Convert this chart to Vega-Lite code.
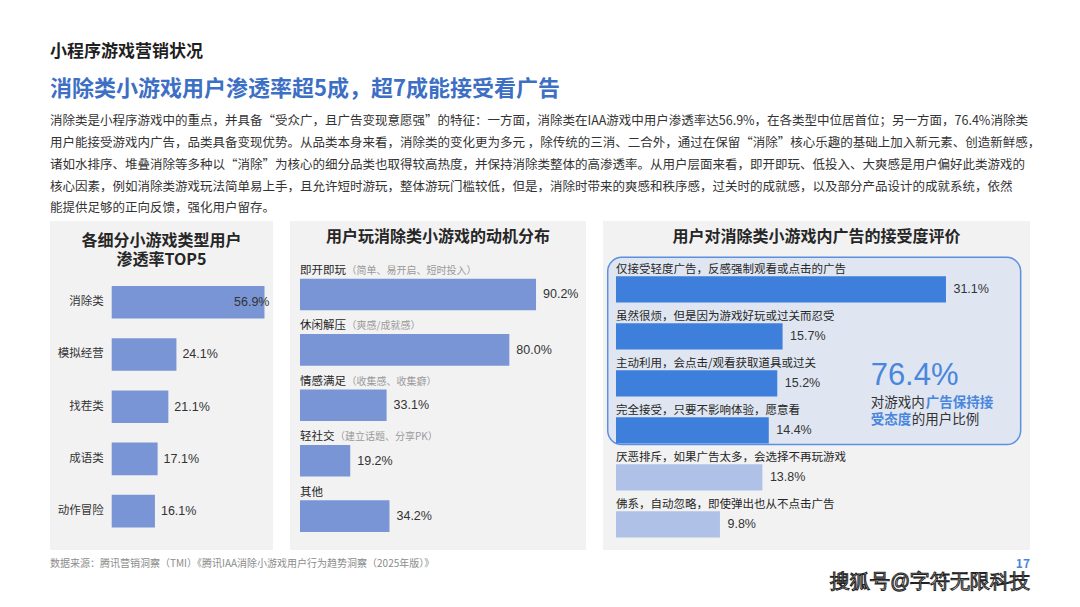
{
  "$schema": "https://vega.github.io/schema/vega-lite/v6.json",
  "background": "white",
  "padding": {"left": 50, "top": 43, "right": 20, "bottom": 0},
  "config": {
    "view": {"stroke": null},
    "font": "Noto Sans CJK SC",
    "style": {"wm": {"stroke": "#222222", "strokeWidth": 1}}
  },
  "title": {
    "text": "小程序游戏营销状况",
    "subtitle": "消除类小游戏用户渗透率超5成，超7成能接受看广告",
    "anchor": "start",
    "font": "Noto Sans CJK SC",
    "fontSize": 17,
    "fontWeight": "bold",
    "color": "#1f1f1f",
    "subtitleFont": "Noto Sans CJK SC",
    "subtitleFontSize": 22,
    "subtitleFontWeight": "bold",
    "subtitleColor": "#3d6fc5",
    "subtitlePadding": 18,
    "offset": 14
  },
  "vconcat": [
    {
      "title": {
        "text": [
          "消除类是小程序游戏中的重点，并具备“受众广，且广告变现意愿强”的特征：一方面，消除类在IAA游戏中用户渗透率达56.9%，在各类型中位居首位；另一方面，76.4%消除类",
          "用户能接受游戏内广告，品类具备变现优势。从品类本身来看，消除类的变化更为多元 ，除传统的三消、二合外，通过在保留“消除”核心乐趣的基础上加入新元素、创造新鲜感，",
          "诸如水排序、堆叠消除等多种以“消除”为核心的细分品类也取得较高热度，并保持消除类整体的高渗透率。从用户层面来看，即开即玩、低投入、大爽感是用户偏好此类游戏的",
          "核心因素，例如消除类游戏玩法简单易上手，且允许短时游玩，整体游玩门槛较低，但是，消除时带来的爽感和秩序感，过关时的成就感，以及部分产品设计的成就系统，依然",
          "能提供足够的正向反馈，强化用户留存。"
        ],
        "anchor": "start",
        "fontSize": 12.5,
        "fontWeight": "normal",
        "color": "#333333",
        "lineHeight": 21.8,
        "offset": 6
      },
      "vconcat": [
        {
          "title": {"text": "搜狐号@字符无限科技", "orient": "bottom", "anchor": "end", "fontSize": 19.5, "fontWeight": "normal", "color": "#ffffff", "style": "wm", "offset": 3},
          "vconcat": [
            {
              "title": {"text": "17", "orient": "bottom", "anchor": "end", "fontSize": 12, "fontWeight": "bold", "color": "#4a86dd", "offset": -10},
              "vconcat": [
                {
                  "title": {"text": "数据来源：腾讯营销洞察（TMI）《腾讯IAA消除小游戏用户行为趋势洞察（2025年版）》", "orient": "bottom", "anchor": "start", "fontSize": 10, "fontWeight": "normal", "color": "#8c8c8c", "offset": 9},
                  "spacing": 17,
                  "hconcat": [
                    {
                      "width": 223,
                      "height": 329,
                      "view": {"fill": "#f2f2f2", "stroke": null},
                      "title": {"text": ["各细分小游戏类型用户", "渗透率TOP5"], "anchor": "middle", "fontSize": 16, "fontWeight": "bold", "color": "#262626", "lineHeight": 19, "offset": -47},
                      "data": {"values": [
                        {"c": "消除类", "v": 56.9},
                        {"c": "模拟经营", "v": 24.1},
                        {"c": "找茬类", "v": 21.1},
                        {"c": "成语类", "v": 17.1},
                        {"c": "动作冒险", "v": 16.1}
                      ]},
                      "transform": [{"calculate": "format(datum.v, '.1f') + '%'", "as": "lbl"}],
                      "encoding": {
                        "y": {"field": "c", "type": "nominal", "sort": null, "axis": null, "scale": {"paddingInner": 0.3755, "paddingOuter": 0.839, "align": 0.742}}
                      },
                      "layer": [
                        {
                          "mark": {"type": "bar", "color": "#7a95d6"},
                          "encoding": {
                            "x": {"field": "v", "type": "quantitative", "axis": null, "scale": {"domain": [-22.98, 60.07], "nice": false, "zero": false}},
                            "x2": {"datum": 0}
                          }
                        },
                        {
                          "mark": {"type": "text", "align": "right", "baseline": "middle", "dx": -8, "fontSize": 11.5, "color": "#333333"},
                          "encoding": {"x": {"datum": 0, "type": "quantitative"}, "text": {"field": "c"}}
                        },
                        {
                          "transform": [{"filter": "datum.v < 50"}],
                          "mark": {"type": "text", "align": "left", "baseline": "middle", "dx": 6, "fontSize": 12.5, "font": "Liberation Sans", "color": "#333333"},
                          "encoding": {"x": {"field": "v", "type": "quantitative"}, "text": {"field": "lbl"}}
                        },
                        {
                          "transform": [{"filter": "datum.v >= 50"}],
                          "mark": {"type": "text", "align": "right", "baseline": "middle", "dx": 5, "fontSize": 12.5, "font": "Liberation Sans", "color": "#333333"},
                          "encoding": {"x": {"field": "v", "type": "quantitative"}, "text": {"field": "lbl"}}
                        }
                      ]
                    },
                    {
                      "width": 296,
                      "height": 329,
                      "view": {"fill": "#f2f2f2", "stroke": null},
                      "title": {"text": "用户玩消除类小游戏的动机分布", "anchor": "middle", "fontSize": 16, "fontWeight": "bold", "color": "#262626", "offset": -24},
                      "data": {"values": [
                        {"name": "即开即玩", "note": "（简单、易开启、短时投入）", "v": 90.2},
                        {"name": "休闲解压", "note": "（爽感/成就感）", "v": 80.0},
                        {"name": "情感满足", "note": "（收集感、收集癖）", "v": 33.1},
                        {"name": "轻社交", "note": "（建立话题、分享PK）", "v": 19.2},
                        {"name": "其他", "note": "", "v": 34.2}
                      ]},
                      "transform": [{"calculate": "format(datum.v, '.1f') + '%'", "as": "lbl"}],
                      "encoding": {
                        "y": {"field": "name", "type": "nominal", "sort": null, "axis": null, "scale": {"paddingInner": 0.43, "paddingOuter": 0.684, "align": 0.761}}
                      },
                      "layer": [
                        {
                          "mark": {"type": "bar", "color": "#7a95d6"},
                          "encoding": {
                            "x": {"field": "v", "type": "quantitative", "axis": null, "scale": {"domain": [-3.82, 109.3], "nice": false, "zero": false}},
                            "x2": {"datum": 0}
                          }
                        },
                        {
                          "mark": {"type": "text", "align": "left", "baseline": "middle", "dy": -23.5, "fontSize": 11.5, "color": "#262626"},
                          "encoding": {"x": {"datum": 0, "type": "quantitative"}, "text": {"field": "name"}}
                        },
                        {
                          "transform": [{"filter": "length(datum.name) == 4 && datum.note != ''"}],
                          "mark": {"type": "text", "align": "left", "baseline": "middle", "dy": -23.5, "dx": 46.5, "fontSize": 10, "color": "#9a9a9a"},
                          "encoding": {"x": {"datum": 0, "type": "quantitative"}, "text": {"field": "note"}}
                        },
                        {
                          "transform": [{"filter": "length(datum.name) == 3 && datum.note != ''"}],
                          "mark": {"type": "text", "align": "left", "baseline": "middle", "dy": -23.5, "dx": 35, "fontSize": 10, "color": "#9a9a9a"},
                          "encoding": {"x": {"datum": 0, "type": "quantitative"}, "text": {"field": "note"}}
                        },
                        {
                          "mark": {"type": "text", "align": "left", "baseline": "middle", "dx": 7, "fontSize": 12.5, "font": "Liberation Sans", "color": "#333333"},
                          "encoding": {"x": {"field": "v", "type": "quantitative"}, "text": {"field": "lbl"}}
                        }
                      ]
                    },
                    {
                      "width": 427,
                      "height": 329,
                      "view": {"fill": "#f2f2f2", "stroke": null},
                      "title": {"text": "用户对消除类小游戏内广告的接受度评价", "anchor": "middle", "fontSize": 16, "fontWeight": "bold", "color": "#262626", "offset": -24},
                      "data": {"values": [
                        {"name": "仅接受轻度广告，反感强制观看或点击的广告", "v": 31.1, "g": "接受"},
                        {"name": "虽然很烦，但是因为游戏好玩或过关而忍受", "v": 15.7, "g": "接受"},
                        {"name": "主动利用，会点击/观看获取道具或过关", "v": 15.2, "g": "接受"},
                        {"name": "完全接受，只要不影响体验，愿意看", "v": 14.4, "g": "接受"},
                        {"name": "厌恶排斥，如果广告太多，会选择不再玩游戏", "v": 13.8, "g": "不接受"},
                        {"name": "佛系，自动忽略，即使弹出也从不点击广告", "v": 9.8, "g": "不接受"}
                      ]},
                      "transform": [{"calculate": "format(datum.v, '.1f') + '%'", "as": "lbl"}],
                      "layer": [
                        {
                          "data": {"values": [{}]},
                          "mark": {"type": "rect", "fill": "#dfe6f2", "stroke": "#5b8fe0", "strokeWidth": 1.5, "cornerRadius": 14, "yOffset": -19, "y2Offset": 1},
                          "encoding": {
                            "x": {"datum": -0.78, "type": "quantitative", "axis": null, "scale": {"domain": [-1.225, 39.02], "nice": false, "zero": false}},
                            "x2": {"datum": 38.14},
                            "y": {"datum": "仅接受轻度广告，反感强制观看或点击的广告", "type": "nominal", "bandPosition": 0, "axis": null,
                                  "scale": {"domain": ["仅接受轻度广告，反感强制观看或点击的广告", "虽然很烦，但是因为游戏好玩或过关而忍受", "主动利用，会点击/观看获取道具或过关", "完全接受，只要不影响体验，愿意看", "厌恶排斥，如果广告太多，会选择不再玩游戏", "佛系，自动忽略，即使弹出也从不点击广告"], "paddingInner": 0.4404, "paddingOuter": 0.7202, "align": 0.817}},
                            "y2": {"datum": "完全接受，只要不影响体验，愿意看", "bandPosition": 1}
                          }
                        },
                        {
                          "mark": {"type": "bar"},
                          "encoding": {
                            "y": {"field": "name", "type": "nominal"},
                            "x": {"field": "v", "type": "quantitative"},
                            "x2": {"datum": 0},
                            "color": {"field": "g", "type": "nominal", "legend": null, "scale": {"domain": ["接受", "不接受"], "range": ["#3f7fdc", "#b0c1e8"]}}
                          }
                        },
                        {
                          "mark": {"type": "text", "align": "left", "baseline": "middle", "dy": -19.2, "fontSize": 11.5, "color": "#262626"},
                          "encoding": {"y": {"field": "name", "type": "nominal"}, "x": {"datum": 0, "type": "quantitative"}, "text": {"field": "name"}}
                        },
                        {
                          "mark": {"type": "text", "align": "left", "baseline": "middle", "dx": 7.5, "fontSize": 12.5, "font": "Liberation Sans", "color": "#333333"},
                          "encoding": {"y": {"field": "name", "type": "nominal"}, "x": {"field": "v", "type": "quantitative"}, "text": {"field": "lbl"}}
                        },
                        {
                          "data": {"values": [{}]},
                          "mark": {"type": "text", "align": "left", "baseline": "middle", "dy": -54.5, "fontSize": 31, "font": "Liberation Sans", "color": "#4a86dd", "text": "76.4%"},
                          "encoding": {"x": {"datum": 24.0, "type": "quantitative"}, "y": {"datum": "完全接受，只要不影响体验，愿意看", "type": "nominal"}}
                        },
                        {
                          "data": {"values": [{}]},
                          "mark": {"type": "text", "align": "left", "baseline": "middle", "dy": -27.5, "fontSize": 13.5, "color": "#333333", "text": "对游戏内"},
                          "encoding": {"x": {"datum": 24.0, "type": "quantitative"}, "y": {"datum": "完全接受，只要不影响体验，愿意看", "type": "nominal"}}
                        },
                        {
                          "data": {"values": [{}]},
                          "mark": {"type": "text", "align": "left", "baseline": "middle", "dy": -27.5, "dx": 55, "fontSize": 13.5, "fontWeight": "bold", "color": "#4a86dd", "text": "广告保持接"},
                          "encoding": {"x": {"datum": 24.0, "type": "quantitative"}, "y": {"datum": "完全接受，只要不影响体验，愿意看", "type": "nominal"}}
                        },
                        {
                          "data": {"values": [{}]},
                          "mark": {"type": "text", "align": "left", "baseline": "middle", "dy": -10.8, "fontSize": 13.5, "fontWeight": "bold", "color": "#4a86dd", "text": "受态度"},
                          "encoding": {"x": {"datum": 24.0, "type": "quantitative"}, "y": {"datum": "完全接受，只要不影响体验，愿意看", "type": "nominal"}}
                        },
                        {
                          "data": {"values": [{}]},
                          "mark": {"type": "text", "align": "left", "baseline": "middle", "dy": -10.8, "dx": 41, "fontSize": 13.5, "color": "#333333", "text": "的用户比例"},
                          "encoding": {"x": {"datum": 24.0, "type": "quantitative"}, "y": {"datum": "完全接受，只要不影响体验，愿意看", "type": "nominal"}}
                        }
                      ]
                    }
                  ]
                }
              ]
            }
          ]
        }
      ]
    }
  ]
}
